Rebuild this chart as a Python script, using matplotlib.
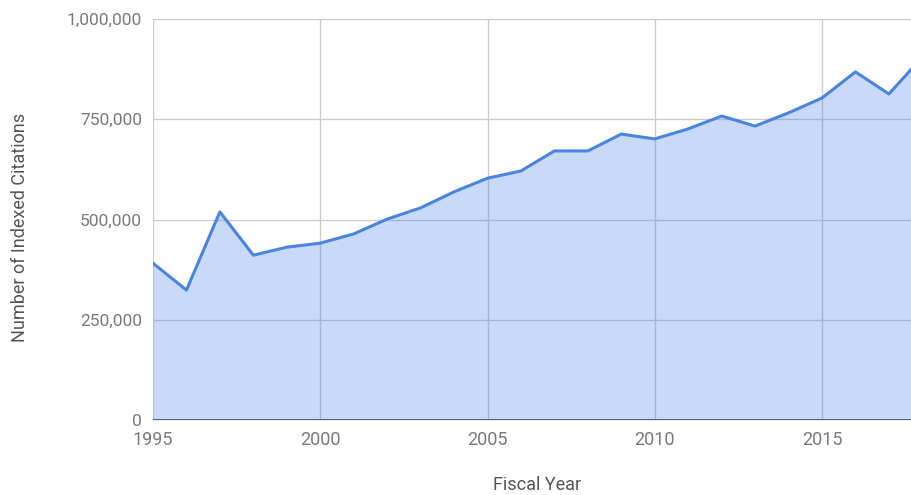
import matplotlib.pyplot as plt
from matplotlib.ticker import FuncFormatter

# data
years = [1995, 1996, 1997, 1998, 1999, 2000, 2001, 2002, 2003, 2004, 2005, 2006,
         2007, 2008, 2009, 2010, 2011, 2012, 2013, 2014, 2015, 2016, 2017, 2018]
citations = [391000, 324000, 519000, 411000, 431000, 441000, 464000, 501000, 529000,
             569000, 603000, 621000, 671000, 671000, 713000, 701000, 726000, 758000,
             733000, 766000, 803000, 868000, 813000, 905000]
x_ticks = [1995, 2000, 2005, 2010, 2015]
y_ticks = [0, 250000, 500000, 750000, 1000000]

line_color = "#4a84e0"
text_color = "#7a7a7a"
title_color = "#555555"

plt.rcParams["font.family"] = ["Roboto", "DejaVu Sans"]

fig = plt.figure(figsize=(9.11, 4.95), dpi=100)
ax = fig.add_axes([153 / 911, 75 / 495, 758 / 911, 401 / 495])

ax.fill_between(years, citations, 0, color="#4a86e8", alpha=0.3, linewidth=0, zorder=2)
ax.plot(years, citations, color=line_color, linewidth=2.2, zorder=3)
ax.axhline(0, color="#555555", linewidth=1.3, zorder=4)

ax.set_xlim(1995, 1995 + 758 / 33.45)
ax.set_ylim(0, 1000000)
ax.set_xticks(x_ticks)
ax.set_yticks(y_ticks)
ax.yaxis.set_major_formatter(FuncFormatter(lambda v, p: f"{int(v):,}"))

ax.grid(True, color="#cccccc", linewidth=1, zorder=1)
ax.set_axisbelow(True)
for s in ax.spines.values():
    s.set_visible(False)

ax.tick_params(length=0, labelcolor=text_color)
ax.tick_params(axis="y", pad=8, labelsize=12.5)
ax.tick_params(axis="x", pad=8, labelsize=13)

# axis titles placed in figure coords
fig.text(537 / 911, 1 - 485 / 495, "Fiscal Year", fontsize=13, color=title_color,
         ha="center", va="center")
fig.text(20 / 911, 1 - 227 / 495, "Number of Indexed Citations", fontsize=13,
         color=title_color, ha="center", va="center", rotation=90)

fig.savefig("out.png", dpi=100)
